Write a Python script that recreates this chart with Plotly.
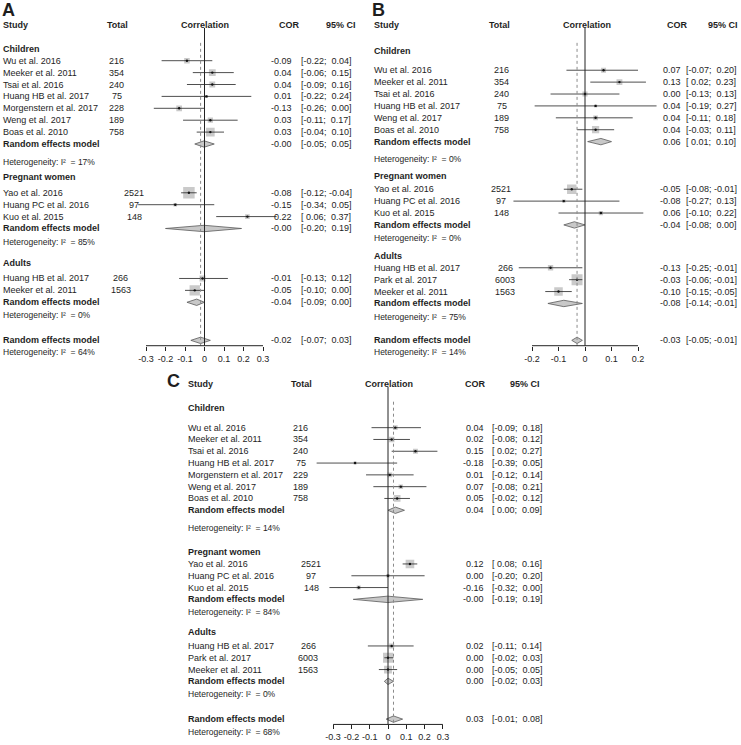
import math
import plotly.graph_objects as go

W, H = 741, 745
FONT = "Liberation Sans, Arial, Helvetica, sans-serif"
INK = "#1e1e1e"

groups = ["Children", "Pregnant women", "Adults"]

# ---------------- Panel A ----------------
a_study = ["Wu et al. 2016", "Meeker et al. 2011", "Tsai et al. 2016", "Huang HB et al. 2017",
           "Morgenstern et al. 2017", "Weng et al. 2017", "Boas et al. 2010",
           "Yao et al. 2016", "Huang PC et al. 2016", "Kuo et al. 2015",
           "Huang HB et al. 2017", "Meeker et al. 2011"]
a_group = [0, 0, 0, 0, 0, 0, 0, 1, 1, 1, 2, 2]
a_total = [216, 354, 240, 75, 228, 189, 758, 2521, 97, 148, 266, 1563]
a_cor = [-0.09, 0.04, 0.04, 0.01, -0.13, 0.03, 0.03, -0.08, -0.15, 0.22, -0.01, -0.05]
a_lo = [-0.22, -0.06, -0.09, -0.22, -0.26, -0.11, -0.04, -0.12, -0.34, 0.06, -0.13, -0.10]
a_hi = [0.04, 0.15, 0.16, 0.24, 0.00, 0.17, 0.10, -0.04, 0.05, 0.37, 0.12, 0.00]
a_re_cor = [-0.002, -0.002, -0.04]
a_re_lo = [-0.05, -0.20, -0.09]
a_re_hi = [0.05, 0.19, 0.00]
a_i2 = [17, 85, 0]
a_all = [-0.02, -0.07, 0.03]
a_all_i2 = 64
a_ticks = [-0.3, -0.2, -0.1, 0, 0.1, 0.2, 0.3]
a_ticklabels = ["-0.3", "-0.2", "-0.1", "0", "0.1", "0.2", "0.3"]

# ---------------- Panel B ----------------
b_study = ["Wu et al. 2016", "Meeker et al. 2011", "Tsai et al. 2016", "Huang HB et al. 2017",
           "Weng et al. 2017", "Boas et al. 2010",
           "Yao et al. 2016", "Huang PC et al. 2016", "Kuo et al. 2015",
           "Huang HB et al. 2017", "Park et al. 2017", "Meeker et al. 2011"]
b_group = [0, 0, 0, 0, 0, 0, 1, 1, 1, 2, 2, 2]
b_total = [216, 354, 240, 75, 189, 758, 2521, 97, 148, 266, 6003, 1563]
b_cor = [0.07, 0.13, 0.00, 0.04, 0.04, 0.04, -0.05, -0.08, 0.06, -0.13, -0.03, -0.10]
b_lo = [-0.07, 0.02, -0.13, -0.19, -0.11, -0.03, -0.08, -0.27, -0.10, -0.25, -0.06, -0.15]
b_hi = [0.20, 0.23, 0.13, 0.27, 0.18, 0.11, -0.01, 0.13, 0.22, -0.01, -0.01, -0.05]
b_re_cor = [0.06, -0.04, -0.08]
b_re_lo = [0.01, -0.08, -0.14]
b_re_hi = [0.10, 0.00, -0.01]
b_i2 = [0, 0, 75]
b_all = [-0.03, -0.05, -0.01]
b_all_i2 = 14
b_ticks = [-0.2, -0.1, 0, 0.1, 0.2]
b_ticklabels = ["-0.2", "-0.1", "0", "0.1", "0.2"]

# ---------------- Panel C ----------------
c_study = ["Wu et al. 2016", "Meeker et al. 2011", "Tsai et al. 2016", "Huang HB et al. 2017",
           "Morgenstern et al. 2017", "Weng et al. 2017", "Boas et al. 2010",
           "Yao et al. 2016", "Huang PC et al. 2016", "Kuo et al. 2015",
           "Huang HB et al. 2017", "Park et al. 2017", "Meeker et al. 2011"]
c_group = [0, 0, 0, 0, 0, 0, 0, 1, 1, 1, 2, 2, 2]
c_total = [216, 354, 240, 75, 229, 189, 758, 2521, 97, 148, 266, 6003, 1563]
c_cor = [0.04, 0.02, 0.15, -0.18, 0.01, 0.07, 0.05, 0.12, 0.00, -0.16, 0.02, 0.00, 0.00]
c_lo = [-0.09, -0.08, 0.02, -0.39, -0.12, -0.08, -0.02, 0.08, -0.20, -0.32, -0.11, -0.02, -0.05]
c_hi = [0.18, 0.12, 0.27, 0.05, 0.14, 0.21, 0.12, 0.16, 0.20, 0.00, 0.14, 0.03, 0.05]
c_re_cor = [0.04, -0.002, 0.00]
c_re_lo = [0.00, -0.19, -0.02]
c_re_hi = [0.09, 0.19, 0.03]
c_i2 = [14, 84, 0]
c_all = [0.03, -0.01, 0.08]
c_all_i2 = 68
c_ticks = [-0.3, -0.2, -0.1, 0, 0.1, 0.2, 0.3]
c_ticklabels = ["-0.3", "-0.2", "-0.1", "0", "0.1", "0.2", "0.3"]

# ---------------- layout (pixel geometry) ----------------
panels = [
    dict(letter="A", ax="x", letter_x=1, letter_y=10, name_x=2, tot_hdr=117.5, tot_x=[116.5, 134, 121],
         corr_hdr=204.5, cor_hdr=289, ci_hdr=(357, "right"), cor_right=293, ci_left=300,
         zero=204.5, ppu=195.0, xr=[-0.45, 0.45], head_y=25, u=11.9,
         title_step=[2.0, 1.3, 1.8], first_step=[1.0, 1.3, 1.3], het_step=[1.5, 1.1, 1.1],
         overall_step=2.1, overall_het=1.0, smin=3.0, smax=11.5,
         study=a_study, group=a_group, total=a_total, cor=a_cor, lo=a_lo, hi=a_hi,
         re_cor=a_re_cor, re_lo=a_re_lo, re_hi=a_re_hi, i2=a_i2, all=a_all, all_i2=a_all_i2,
         ticks=a_ticks, ticklabels=a_ticklabels),
    dict(letter="B", ax="x2", letter_x=371, letter_y=10, name_x=373, tot_hdr=499, tot_x=[502, 501, 505],
         corr_hdr=587, cor_hdr=677.5, ci_hdr=(739, "right"), cor_right=682, ci_left=685,
         zero=585.0, ppu=265.0, xr=[-0.32, 0.30], head_y=25, u=11.9,
         title_step=[2.2, 1.4, 1.5], first_step=[1.6, 1.1, 1.0], het_step=[1.5, 1.1, 1.1],
         overall_step=2.0, overall_het=1.0, smin=3.0, smax=11.0,
         study=b_study, group=b_group, total=b_total, cor=b_cor, lo=b_lo, hi=b_hi,
         re_cor=b_re_cor, re_lo=b_re_lo, re_hi=b_re_hi, i2=b_i2, all=b_all, all_i2=b_all_i2,
         ticks=b_ticks, ticklabels=b_ticklabels),
    dict(letter="C", ax="x3", letter_x=166, letter_y=381, name_x=187, tot_hdr=301, tot_x=[300.5, 311, 308],
         corr_hdr=389, cor_hdr=476, ci_hdr=(525, "center"), cor_right=485, ci_left=491,
         zero=388.0, ppu=183.0, xr=[-0.45, 0.45], head_y=384, u=11.8,
         title_step=[2.0, 2.0, 1.7], first_step=[1.7, 1.05, 1.15], het_step=[1.5, 1.1, 1.1],
         overall_step=2.1, overall_het=1.1, smin=3.0, smax=10.0,
         study=c_study, group=c_group, total=c_total, cor=c_cor, lo=c_lo, hi=c_hi,
         re_cor=c_re_cor, re_lo=c_re_lo, re_hi=c_re_hi, i2=c_i2, all=c_all, all_i2=c_all_i2,
         ticks=c_ticks, ticklabels=c_ticklabels),
]

STUDY_SIZE = 9.0
HET_SIZE = 8.5
annotations = []
traces = []
layout_axes = {}


def txt(x, y, s, anchor="left", size=STUDY_SIZE, bold=False):
    if bold:
        s = "<b>" + s + "</b>"
    annotations.append(dict(x=x / W, y=y, xref="paper", yref="y", text=s, showarrow=False,
                            xanchor=anchor, yanchor="middle", borderpad=0,
                            font=dict(family=FONT, size=size, color=INK)))


def ci_str(lo, hi):
    nb = "\u00a0"
    s_lo = (nb if lo >= 0 else "") + f"{lo:.2f}"
    s_hi = (nb if hi >= 0 else "") + f"{hi:.2f}"
    return "[" + s_lo + ";" + nb + s_hi + "]"


def het_str(i2):
    return "Heterogeneity: I\u00b2\u00a0\u00a0= " + f"{i2}%"


for p in panels:
    u = p["u"]
    y = p["head_y"]
    ax = p["ax"]
    # headers
    txt(p["letter_x"], p["letter_y"], p["letter"], size=18, bold=True)
    txt(p["name_x"], y, "Study", bold=True)
    txt(p["tot_hdr"], y, "Total", anchor="center", bold=True)
    txt(p["corr_hdr"], y, "Correlation", anchor="center", bold=True)
    txt(p["cor_hdr"], y, "COR", anchor="center", bold=True)
    txt(p["ci_hdr"][0], y, "95% CI", anchor=p["ci_hdr"][1], bold=True)

    # square sizes from totals (log scale)
    lmin, lmax = math.log(min(p["total"])), math.log(max(p["total"]))
    sizes = [p["smin"] + (p["smax"] - p["smin"]) * (math.log(n) - lmin) / (lmax - lmin) for n in p["total"]]

    sq_x, sq_y, sq_s = [], [], []
    ln_x, ln_y = [], []
    diamonds = []
    for g in range(3):
        y += p["title_step"][g] * u
        txt(p["name_x"], y, groups[g], bold=True)
        idx = [i for i, gg in enumerate(p["group"]) if gg == g]
        for k, i in enumerate(idx):
            y += (p["first_step"][g] if k == 0 else 1.0) * u
            txt(p["name_x"], y, p["study"][i])
            txt(p["tot_x"][g], y, str(p["total"][i]), anchor="center")
            txt(p["cor_right"], y, f"{p['cor'][i]:.2f}", anchor="right")
            txt(p["ci_left"], y, ci_str(p["lo"][i], p["hi"][i]), anchor="left")
            sq_x.append(p["cor"][i]); sq_y.append(y); sq_s.append(sizes[i])
            ln_x += [p["lo"][i], p["hi"][i], None]; ln_y += [y, y, None]
        y += u
        txt(p["name_x"], y, "Random effects model", bold=True)
        txt(p["cor_right"], y, f"{p['re_cor'][g]:.2f}", anchor="right")
        txt(p["ci_left"], y, ci_str(p["re_lo"][g], p["re_hi"][g]), anchor="left")
        diamonds.append((p["re_lo"][g], p["re_cor"][g], p["re_hi"][g], y))
        y += p["het_step"][g] * u
        txt(p["name_x"], y, het_str(p["i2"][g]), size=HET_SIZE)
    y += p["overall_step"] * u
    txt(p["name_x"], y, "Random effects model", bold=True)
    txt(p["cor_right"], y, f"{p['all'][0]:.2f}", anchor="right")
    txt(p["ci_left"], y, ci_str(p["all"][1], p["all"][2]), anchor="left")
    diamonds.append((p["all"][1], p["all"][0], p["all"][2], y))
    axis_y = y + 0.45 * u
    y += p["overall_het"] * u
    txt(p["name_x"], y, het_str(p["all_i2"]), size=HET_SIZE)

    # squares
    traces.append(go.Scatter(x=sq_x, y=sq_y, mode="markers", xaxis=ax, yaxis="y",
                             marker=dict(symbol="square", size=sq_s, color="#b4b4b4", line=dict(width=0)),
                             hoverinfo="skip", showlegend=False))
    # CI lines
    traces.append(go.Scatter(x=ln_x, y=ln_y, mode="lines", xaxis=ax, yaxis="y",
                             line=dict(color="#222222", width=0.8), hoverinfo="skip", showlegend=False))
    # centre dots
    traces.append(go.Scatter(x=sq_x, y=sq_y, mode="markers", xaxis=ax, yaxis="y",
                             marker=dict(symbol="circle", size=2.4, color="#111111"),
                             hoverinfo="skip", showlegend=False))
    # diamonds
    hh = 3.2
    for lo, est, hi, yy in diamonds:
        traces.append(go.Scatter(x=[lo, est, hi, est, lo], y=[yy, yy - hh, yy, yy + hh, yy],
                                 mode="lines", fill="toself", fillcolor="#c8c8c8",
                                 line=dict(color="#5a5a5a", width=0.8), xaxis=ax, yaxis="y",
                                 hoverinfo="skip", showlegend=False))
    # reference lines
    traces.append(go.Scatter(x=[0, 0], y=[p["head_y"] + 3, axis_y], mode="lines", xaxis=ax, yaxis="y",
                             line=dict(color="#222222", width=1), hoverinfo="skip", showlegend=False))
    traces.append(go.Scatter(x=[p["all"][0], p["all"][0]], y=[p["head_y"] + 1.5 * u, axis_y], mode="lines",
                             xaxis=ax, yaxis="y", line=dict(color="#8a8a8a", width=1, dash="dot"),
                             hoverinfo="skip", showlegend=False))
    # axis baseline between extreme ticks
    traces.append(go.Scatter(x=[p["ticks"][0], p["ticks"][-1]], y=[axis_y, axis_y], mode="lines",
                             xaxis=ax, yaxis="y", line=dict(color="#222222", width=1),
                             hoverinfo="skip", showlegend=False))

    d0 = (p["zero"] + p["xr"][0] * p["ppu"]) / W
    d1 = (p["zero"] + p["xr"][1] * p["ppu"]) / W
    key = "xaxis" if ax == "x" else "xaxis" + ax[1:]
    layout_axes[key] = dict(domain=[d0, d1], range=p["xr"], anchor="free", position=1 - axis_y / H,
                            showline=False, showgrid=False, zeroline=False,
                            tickmode="array", tickvals=p["ticks"], ticktext=p["ticklabels"],
                            ticks="outside", ticklen=4, tickwidth=1, tickcolor="#222222",
                            tickfont=dict(family=FONT, size=9, color=INK), fixedrange=True)

fig = go.Figure(traces)
fig.update_layout(
    width=W, height=H, margin=dict(l=0, r=0, t=0, b=0, pad=0),
    paper_bgcolor="white", plot_bgcolor="rgba(0,0,0,0)",
    yaxis=dict(domain=[0, 1], range=[H, 0], visible=False, fixedrange=True),
    annotations=annotations, showlegend=False,
    **layout_axes,
)
fig.write_html("out.html", config={"displayModeBar": False},
               post_script="document.body.style.margin='0px';document.body.style.overflow='hidden';")
